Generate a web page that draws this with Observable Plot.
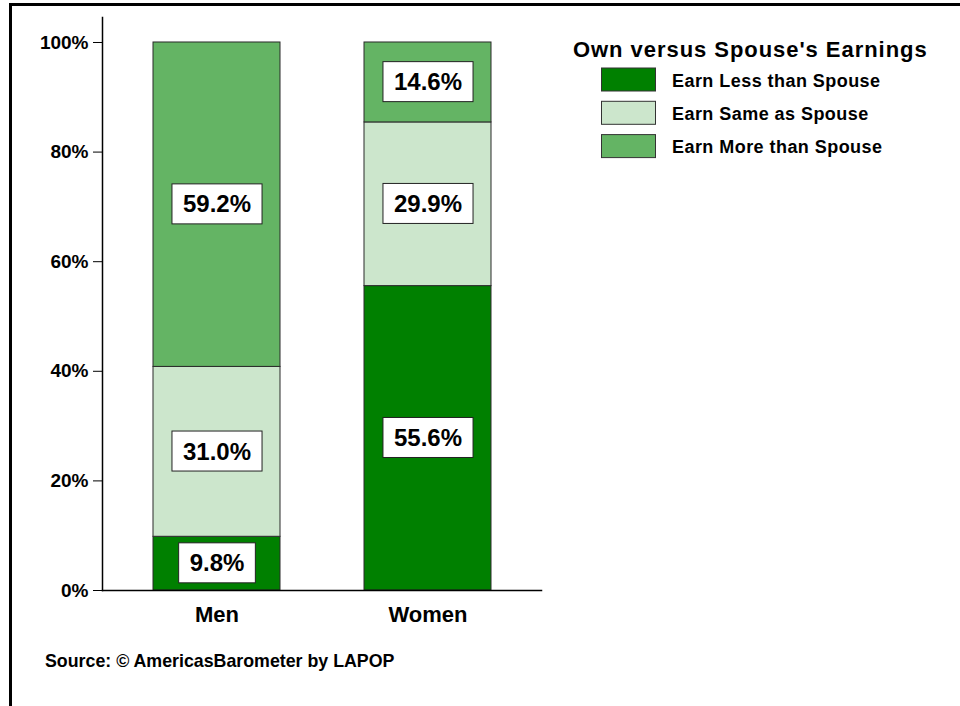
<!DOCTYPE html>
<html><head><meta charset="utf-8">
<script src="https://cdn.jsdelivr.net/npm/d3@7"></script>
<script src="https://cdn.jsdelivr.net/npm/@observablehq/plot@0.6"></script>
<style>
body{margin:0;background:#fff;font-family:"Liberation Sans",Arial,sans-serif;}
#wrap{position:relative;width:960px;height:706px;overflow:hidden;background:#fff;}
#wrap > svg{position:absolute;left:0;top:0;}
#frame{position:absolute;left:9px;top:3px;width:1000px;height:800px;border-top:3px solid #000;border-left:3px solid #000;box-sizing:border-box;pointer-events:none;z-index:5;}
</style></head><body><div id="wrap"><div id="frame"></div></div>
<script>
const groups = ["Men", "Women"];
const categories = ["Earn Less than Spouse", "Earn Same as Spouse", "Earn More than Spouse"];
const menValues = [9.8, 31.0, 59.2];
const womenValues = [55.6, 29.9, 14.6];
const colors = ["#008000", "#cce6cc", "#64b464"];
const yTicks = [0, 0.2, 0.4, 0.6, 0.8, 1.0];
const legendTitle = "Own versus Spouse's Earnings";
const caption = "Source: © AmericasBarometer by LAPOP";

const data = [];
categories.forEach((c, i) => {
  data.push({group: groups[0], category: c, value: menValues[i]});
  data.push({group: groups[1], category: c, value: womenValues[i]});
});

const stackOpts = {x: "group", y: "value", z: "category", offset: "normalize", order: categories};

const plot = Plot.plot({
  width: 960,
  height: 706,
  marginLeft: 102,
  marginRight: 419,
  marginTop: 17,
  marginBottom: 116,
  style: {fontFamily: "'Liberation Sans', Arial, sans-serif", color: "#000", background: "transparent"},
  x: {domain: groups, paddingInner: 0.4, paddingOuter: 0.236, label: null},
  y: {domain: [0, 1.0456], label: null},
  color: {domain: categories, range: colors},
  marks: [
    Plot.barY(data, {...stackOpts, fill: "category", stroke: "#2a2a2a", strokeWidth: 1, insetLeft: 0, insetRight: 0}),
    Plot.frame({anchor: "left", stroke: "#000", strokeWidth: 1.5}),
    Plot.frame({anchor: "bottom", stroke: "#000", strokeWidth: 1.5}),
    Plot.axisY({ticks: yTicks, tickFormat: d3.format(".0%"), tickSize: 9, tickPadding: 5, fontSize: 19, fontWeight: "bold", label: null, stroke: "#000"}),
    Plot.axisX({tickSize: 0, tickPadding: 16, fontSize: 22, fontWeight: "bold", label: null}),
    Plot.text(data, Plot.stackY({...stackOpts, text: d => d.value.toFixed(1) + "%", fontSize: 24, fontWeight: "bold", fill: "#000", ariaLabel: "seglabel", className: "seglabel"}))
  ]
});

const wrap = document.getElementById("wrap");
wrap.insertBefore(plot, wrap.firstChild);

// white boxes behind the segment labels, sized from the rendered text
const svgRect = plot.getBoundingClientRect();
let labelG = plot.querySelector("g.seglabel") || plot.querySelector('g[aria-label="seglabel"]');
if (labelG) {
  const boxG = document.createElementNS("http://www.w3.org/2000/svg", "g");
  labelG.querySelectorAll("text").forEach(t => {
    const r = t.getBoundingClientRect();
    const cy = (r.top + r.bottom) / 2 - svgRect.top;
    const rect = document.createElementNS("http://www.w3.org/2000/svg", "rect");
    rect.setAttribute("x", r.left - svgRect.left - 11);
    rect.setAttribute("width", r.width + 22);
    rect.setAttribute("y", cy - 20);
    rect.setAttribute("height", 40);
    rect.setAttribute("fill", "#fff");
    rect.setAttribute("stroke", "#222");
    rect.setAttribute("stroke-width", 1);
    boxG.appendChild(rect);
  });
  labelG.parentNode.insertBefore(boxG, labelG);
}

// legend and caption overlay
const ov = d3.select(wrap).append("svg")
  .attr("width", 960).attr("height", 706)
  .style("position", "absolute").style("left", 0).style("top", 0)
  .style("font-family", "'Liberation Sans', Arial, sans-serif");

ov.append("text").attr("x", 573).attr("y", 56.5)
  .attr("font-size", 22).attr("font-weight", "bold").attr("letter-spacing", 0.95)
  .text(legendTitle);

categories.forEach((c, i) => {
  ov.append("rect").attr("x", 601.5).attr("y", 68 + i * 33.3).attr("width", 54).attr("height", 23)
    .attr("fill", colors[i]).attr("stroke", "#333").attr("stroke-width", 1);
  ov.append("text").attr("x", 672).attr("y", 86.5 + i * 33)
    .attr("font-size", 18).attr("font-weight", "bold").attr("letter-spacing", 0.45)
    .text(c);
});

ov.append("text").attr("x", 45).attr("y", 667)
  .attr("font-size", 17.8).attr("font-weight", "bold")
  .text(caption);
</script>
</body></html>
